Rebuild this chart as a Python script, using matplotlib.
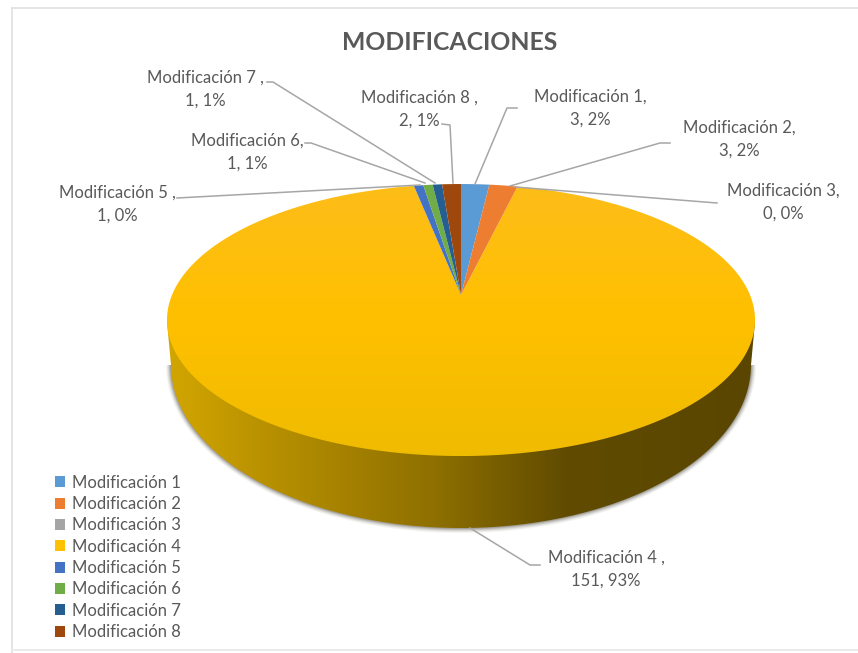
import numpy as np
import matplotlib
matplotlib.use("Agg")
import matplotlib.pyplot as plt
from matplotlib.colors import LinearSegmentedColormap
from matplotlib.patches import Patch, Polygon

plt.rcParams["font.family"] = ["Lato", "DejaVu Sans"]

categories = ["Modificación 1", "Modificación 2", "Modificación 3", "Modificación 4",
              "Modificación 5", "Modificación 6", "Modificación 7", "Modificación 8"]
values = [3, 3, 0, 151, 1, 1, 1, 2]
percents = ["2%", "2%", "0%", "93%", "0%", "1%", "1%", "1%"]
colors = ["#5B9BD5", "#ED7D31", "#A5A5A5", "#FFC000", "#4472C4", "#70AD47", "#255E91", "#9E480E"]
label_names = ["Modificación 1,", "Modificación 2,", "Modificación 3,", "Modificación 4 ,",
               "Modificación 5 ,", "Modificación 6,", "Modificación 7 ,", "Modificación 8 ,"]
label_pos = [(590, 108), (739, 139), (783, 202), (606, 569),
             (117, 204), (247, 152), (205, 89), (419, 109)]
leaders = [
    [(475, 184), (507, 108), (517, 108)],
    [(510, 186), (660, 143), (670, 143)],
    [(515, 187), (717, 203)],
    [(470, 528), (530, 565), (540, 565)],
    [(420, 185), (177, 198)],
    [(425, 183), (311, 143), (305, 143)],
    [(435, 183), (273, 82), (267, 82)],
    [(453, 183), (450, 125), (442, 124)],
]

TEXT = "#595959"
LINE = "#a6a6a6"

# pie centre on screen and the perspective of the disc
cx, cy = 461, 295
A, B, P = 289, 131.4, 0.184


def project(theta):
    # theta measured clockwise from 12 o'clock
    u, v = np.sin(theta), np.cos(theta)
    return cx + A * u / (1 + P * v), cy - B * v / (1 + P * v)


def wedge(start, stop):
    t = np.linspace(start, stop, max(int((stop - start) * 80), 3))
    x, y = project(t)
    return np.column_stack([np.r_[cx, x], np.r_[cy, y]])


fig = plt.figure(figsize=(8.58, 6.53), dpi=100)
ax = fig.add_axes([0, 0, 1, 1])
ax.set_xlim(0, 858)
ax.set_ylim(653, 0)
ax.axis("off")

# chart frame, cut by the screenshot on the right
ax.plot([12, 858], [8, 8], color="#e0e0e0", lw=1.2)
ax.plot([12, 12], [8, 653], color="#e0e0e0", lw=1.2)
ax.plot([12, 858], [650, 650], color="#e8e8e8", lw=1.2)

# side of the cake
t = np.linspace(-np.pi / 2, np.pi / 2, 300)
side_x = 461 + 290 * np.sin(t)
side_y = 365 + 163 * np.cos(t)
side = np.column_stack([np.r_[167, side_x, 755], np.r_[322, side_y, 322]])

for grow, alpha in [(5, 0.05), (4, 0.07), (3, 0.10), (2, 0.14), (1, 0.2)]:
    sx = 461 + (290 + grow) * np.sin(t)
    sy = 365 + (163 + grow) * np.cos(t)
    ax.add_patch(Polygon(np.column_stack([sx, sy]), closed=True, fc="#3a3020", ec="none", alpha=alpha))

side_cmap = LinearSegmentedColormap.from_list(
    "side", [(0, "#d2a600"), (0.15, "#bb9300"), (0.45, "#8f7000"), (0.68, "#604b00"), (1, "#5a4600")])
im = ax.imshow(np.linspace(0, 1, 256).reshape(1, -1), cmap=side_cmap, extent=[167, 755, 540, 300],
               aspect="auto", zorder=2)
clip = Polygon(side, closed=True, transform=ax.transData)
im.set_clip_path(clip)

# top face
fractions = np.array(values) / sum(values)
edges = np.r_[0, np.cumsum(fractions)] * 2 * np.pi
for i, val in enumerate(values):
    if val == 0:
        continue
    verts = wedge(edges[i], edges[i + 1])
    if categories[i] == "Modificación 4":
        top_cmap = LinearSegmentedColormap.from_list("top", ["#fdbd1a", "#ffc000", "#efbb00"])
        grad = ax.imshow(np.linspace(0, 1, 256).reshape(-1, 1), cmap=top_cmap,
                         extent=[160, 760, 460, 180], aspect="auto", zorder=3)
        grad.set_clip_path(Polygon(verts, closed=True, transform=ax.transData))
    else:
        ax.add_patch(Polygon(verts, closed=True, fc=colors[i], ec="none", zorder=4))
ax.set_xlim(0, 858)
ax.set_ylim(653, 0)

for pts in leaders:
    xs, ys = zip(*pts)
    ax.plot(xs, ys, color=LINE, lw=1.1, zorder=5)

for name, val, pct, (x, y) in zip(label_names, values, percents, label_pos):
    ax.text(x, y, f"{name}\n{val}, {pct}", ha="center", va="center", fontsize=12,
            color=TEXT, linespacing=1.55, zorder=6)

ax.text(450, 43, "MODIFICACIONES", ha="center", va="center", fontsize=17.8,
        fontweight="bold", color=TEXT)

handles = [Patch(facecolor=c, edgecolor="none", label=n) for c, n in zip(colors, categories)]
ax.legend(handles=handles, loc="lower left", bbox_to_anchor=(55 / 858, (653 - 640) / 653),
          frameon=False, fontsize=12, labelcolor=TEXT, labelspacing=0.32,
          handlelength=0.62, handleheight=0.62, handletextpad=0.4, borderpad=0, borderaxespad=0)

fig.savefig("out.png", dpi=100)
plt.close(fig)
